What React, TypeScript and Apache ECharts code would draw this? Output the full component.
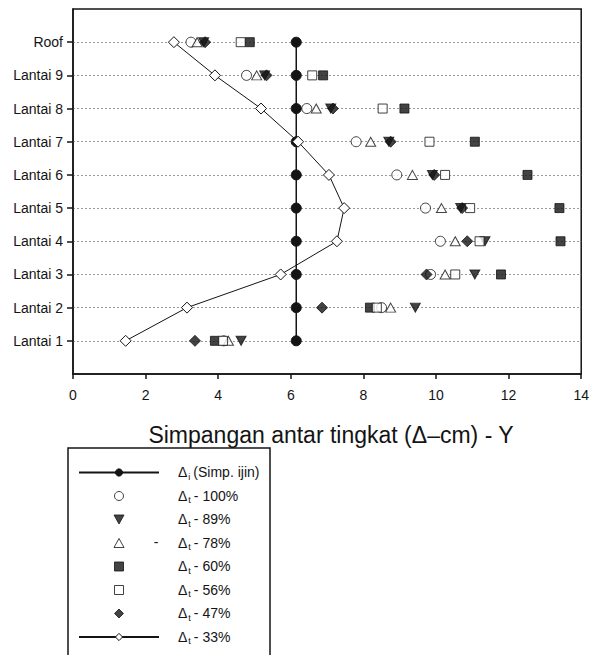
import { useEffect, useRef } from 'react';
import * as echarts from 'echarts';

// Floors from bottom to top of the building
const floors = ['Lantai 1', 'Lantai 2', 'Lantai 3', 'Lantai 4', 'Lantai 5', 'Lantai 6', 'Lantai 7', 'Lantai 8', 'Lantai 9', 'Roof'];
const floorLevels = floors.map((_, i) => i + 1);

// Inter-storey drift (cm), Lantai 1 .. Roof
const driftAllowable = [6.15, 6.15, 6.15, 6.15, 6.15, 6.15, 6.15, 6.15, 6.15, 6.15];
const drift100 = [4.15, 8.5, 9.85, 10.12, 9.71, 8.92, 7.8, 6.44, 4.78, 3.25];
const drift89 = [4.63, 9.43, 11.07, 11.35, 10.68, 9.9, 8.7, 7.1, 5.28, 3.6];
const drift78 = [4.28, 8.75, 10.25, 10.53, 10.15, 9.35, 8.2, 6.7, 5.06, 3.42];
const drift60 = [3.91, 8.18, 11.79, 13.43, 13.4, 12.52, 11.07, 9.13, 6.89, 4.87];
const drift56 = [4.13, 8.37, 10.53, 11.2, 10.94, 10.25, 9.82, 8.53, 6.59, 4.62];
const drift47 = [3.36, 6.86, 9.74, 10.86, 10.72, 9.95, 8.75, 7.16, 5.33, 3.64];
const drift33 = [1.45, 3.14, 5.72, 7.27, 7.47, 7.05, 6.2, 5.18, 3.91, 2.78];

const xTicks = { min: 0, max: 14, interval: 2 };
const axisTitle = 'Simpangan antar tingkat (\u0394\u2013cm) - Y';

const FONT = '"Liberation Sans", Arial, Helvetica, sans-serif';
const INK = '#141414';

const toPoints = (xs: number[]) => xs.map((x, i) => [x, floorLevels[i]]);

// Legend label: delta sign, subscript, then the rest of the name
const legendText: Record<string, string> = {
  ijin: '{d|\u0394}{s|i}{n|(Simp. ijin)}',
  p100: '{d|\u0394}{s|t}{n|- 100%}',
  p89: '{d|\u0394}{s|t}{n|- 89%}',
  p78: '{d|\u0394}{s|t}{n|- 78%}',
  p60: '{d|\u0394}{s|t}{n|- 60%}',
  p56: '{d|\u0394}{s|t}{n|- 56%}',
  p47: '{d|\u0394}{s|t}{n|- 47%}',
  p33: '{d|\u0394}{s|t}{n|- 33%}',
};

// Square-proportioned legend icons so they are not stretched over the item width
const iconDown = 'path://M0,0L10,0L5,9Z';
const iconUp = 'path://M5,0L10,9L0,9Z';
const iconSquare = 'path://M0,0L9,0L9,9L0,9Z';
const iconDiamond = 'path://M5,0L10,5L5,10L0,5Z';

const openStyle = { color: '#ffffff', borderColor: INK, borderWidth: 1 };
const solidStyle = { color: INK, borderColor: INK, borderWidth: 1 };

export default function App() {
  const ref = useRef<HTMLDivElement>(null);

  useEffect(() => {
    document.body.style.margin = '0';
    if (!ref.current) return;
    const chart = echarts.init(ref.current, undefined, { renderer: 'svg' });

    const option: any = {
      animation: false,
      backgroundColor: '#ffffff',
      grid: {
        left: 73,
        right: 7,
        top: 9,
        bottom: 281,
        show: true,
        borderColor: INK,
        borderWidth: 1.5,
        backgroundColor: 'transparent',
      },
      xAxis: {
        type: 'value',
        min: xTicks.min,
        max: xTicks.max,
        interval: xTicks.interval,
        axisLine: { show: true, onZero: false, lineStyle: { color: INK, width: 1.5 } },
        axisTick: { show: true, length: 5, lineStyle: { color: INK, width: 1.5 } },
        axisLabel: { color: INK, fontSize: 14, fontFamily: FONT, margin: 14 },
        splitLine: { show: false },
      },
      yAxis: {
        type: 'value',
        min: 0,
        max: floors.length + 1,
        interval: 1,
        axisLine: { show: true, onZero: false, lineStyle: { color: INK, width: 1.5 } },
        axisTick: { show: true, length: 6, customValues: floorLevels, lineStyle: { color: INK, width: 1.5 } },
        axisLabel: {
          color: INK,
          fontSize: 14,
          fontFamily: FONT,
          margin: 10,
          formatter: (v: number) => floors[v - 1] ?? '',
        },
        splitLine: { show: true, lineStyle: { color: '#9a9a9a', width: 1, type: [2, 2] } },
      },
      legend: {
        orient: 'vertical',
        left: 78,
        top: 464,
        padding: 0,
        itemWidth: 80,
        itemHeight: 9,
        itemGap: 6.5,
        selectedMode: false,
        symbolKeepAspect: true,
        itemStyle: { borderWidth: 1 },
        data: [
          { name: 'ijin' },
          { name: 'p100' },
          { name: 'p89', icon: iconDown },
          { name: 'p78', icon: iconUp },
          { name: 'p60', icon: iconSquare },
          { name: 'p56', icon: iconSquare },
          { name: 'p47', icon: iconDiamond },
          { name: 'p33' },
        ],
        formatter: (name: string) => '{g| }' + legendText[name],
        textStyle: {
          color: INK,
          fontFamily: FONT,
          fontSize: 14,
          rich: {
            g: { width: 14, fontSize: 14, lineHeight: 17 },
            d: { fontSize: 14, fontFamily: FONT, color: INK, lineHeight: 14, verticalAlign: 'top', padding: [1, 0, 0, 0] },
            s: { fontSize: 9, fontFamily: FONT, color: INK, lineHeight: 9, verticalAlign: 'top', padding: [8, 3, 0, 1] },
            n: { fontSize: 14, fontFamily: FONT, color: INK, lineHeight: 14, verticalAlign: 'top', padding: [1, 0, 0, 0] },
          },
        },
      },
      graphic: [
        {
          type: 'rect',
          shape: { x: 68, y: 448, width: 202, height: 240 },
          style: { fill: 'none', stroke: INK, lineWidth: 1.5 },
          silent: true,
        },
        {
          type: 'text',
          x: 156,
          y: 542,
          style: { text: '-', fontSize: 14, fontFamily: FONT, fill: INK, textAlign: 'center', textVerticalAlign: 'middle' },
          silent: true,
        },
        {
          type: 'text',
          x: 331,
          y: 435,
          style: {
            text: axisTitle,
            fontSize: 23,
            fontFamily: FONT,
            fill: INK,
            textAlign: 'center',
            textVerticalAlign: 'middle',
          },
          silent: true,
        },
      ],
      series: [
        {
          name: 'ijin',
          type: 'line',
          data: toPoints(driftAllowable),
          symbol: 'circle',
          symbolSize: 10,
          itemStyle: solidStyle,
          lineStyle: { color: INK, width: 1.5 },
        },
        {
          name: 'p100',
          type: 'scatter',
          data: toPoints(drift100),
          symbol: 'circle',
          symbolSize: 10,
          itemStyle: openStyle,
        },
        {
          name: 'p89',
          type: 'scatter',
          data: toPoints(drift89),
          symbol: 'triangle',
          symbolRotate: 180,
          symbolSize: [10, 9],
          itemStyle: solidStyle,
        },
        {
          name: 'p78',
          type: 'scatter',
          data: toPoints(drift78),
          symbol: 'triangle',
          symbolSize: [10, 9],
          itemStyle: openStyle,
        },
        {
          name: 'p60',
          type: 'scatter',
          data: toPoints(drift60),
          symbol: 'rect',
          symbolSize: 9,
          itemStyle: solidStyle,
        },
        {
          name: 'p56',
          type: 'scatter',
          data: toPoints(drift56),
          symbol: 'rect',
          symbolSize: 9,
          itemStyle: openStyle,
        },
        {
          name: 'p47',
          type: 'scatter',
          data: toPoints(drift47),
          symbol: 'diamond',
          symbolSize: 11,
          itemStyle: solidStyle,
        },
        {
          name: 'p33',
          type: 'line',
          data: toPoints(drift33),
          symbol: 'diamond',
          symbolSize: 11,
          showAllSymbol: true,
          itemStyle: openStyle,
          lineStyle: { color: INK, width: 1 },
        },
      ],
    };

    chart.setOption(option);
    return () => chart.dispose();
  }, []);

  return <div ref={ref} style={{ width: 592, height: 655 }} />;
}
